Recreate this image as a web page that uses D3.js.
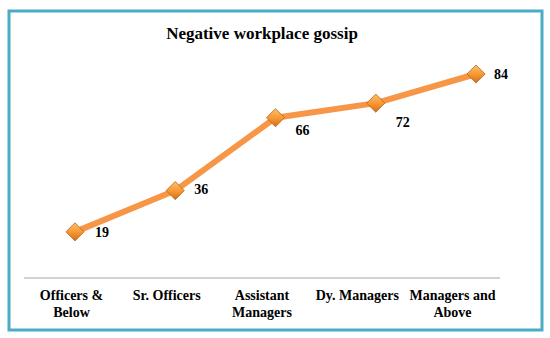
<!DOCTYPE html>
<html>
<head>
<meta charset="utf-8">
<script src="https://cdn.jsdelivr.net/npm/d3@7"></script>
<style>
  body { margin: 0; background: #fff; }
  svg { display: block; font-family: "Liberation Serif", "Times New Roman", serif; }
</style>
</head>
<body>
<svg id="chart" width="550" height="338"></svg>
<script>
const categories = ["Officers & Below", "Sr. Officers", "Assistant Managers", "Dy. Managers", "Managers and Above"];
const tickLabels = [["Officers &", "Below"], ["Sr. Officers"], ["Assistant", "Managers"], ["Dy. Managers"], ["Managers and", "Above"]];
const values = [19, 36, 66, 72, 84];

const svg = d3.select("#chart");

const defs = svg.append("defs");
const grad = defs.append("linearGradient")
  .attr("id", "dia")
  .attr("x1", "0%").attr("y1", "0%")
  .attr("x2", "0%").attr("y2", "100%");
grad.append("stop").attr("offset", "0%").attr("stop-color", "#fbc06f");
grad.append("stop").attr("offset", "55%").attr("stop-color", "#f7952f");
grad.append("stop").attr("offset", "100%").attr("stop-color", "#cc701b");

// frame
svg.append("rect")
  .attr("x", 9).attr("y", 11)
  .attr("width", 533).attr("height", 319)
  .attr("fill", "none")
  .attr("stroke", "#4bacc6")
  .attr("stroke-width", 3);

svg.append("text")
  .attr("x", 262).attr("y", 39)
  .attr("text-anchor", "middle")
  .attr("font-size", 17)
  .attr("font-weight", "bold")
  .text("Negative workplace gossip");

// point positions and label positions are slightly different in the original
const x = d3.scalePoint().domain(categories).range([75, 476]);
const xLab = d3.scalePoint().domain(categories).range([71, 452]);
const y = d3.scaleLinear().domain([0, 84]).range([278, 74]);

// category axis
const xAxis = svg.append("g")
  .attr("transform", "translate(0,278)")
  .call(d3.axisBottom(xLab).tickSize(0).tickFormat(""));
xAxis.select(".domain")
  .attr("d", "M24,0H500")
  .attr("stroke", "#a6a6a6")
  .attr("stroke-width", 1);
xAxis.selectAll(".tick").each(function (d, i) {
  const t = d3.select(this).append("text")
    .attr("fill", "#000")
    .attr("font-size", 14)
    .attr("font-weight", "bold")
    .attr("text-anchor", "middle")
    .attr("font-family", "Liberation Serif, serif");
  tickLabels[i].forEach((line, j) => {
    t.append("tspan").attr("x", 0).attr("y", 22 + j * 17).text(line);
  });
});

const line = d3.line()
  .x((d, i) => x(categories[i]))
  .y(d => y(d));

svg.append("path")
  .datum(values)
  .attr("d", line)
  .attr("fill", "none")
  .attr("stroke", "#f79646")
  .attr("stroke-width", 6)
  .attr("stroke-linejoin", "round");

const sym = d3.symbol().type(d3.symbolDiamond2).size(210);
svg.selectAll(".marker")
  .data(values)
  .join("path")
  .attr("class", "marker")
  .attr("d", sym)
  .attr("transform", (d, i) => `translate(${x(categories[i])},${y(d)})`)
  .attr("fill", "url(#dia)")
  .attr("stroke", "#b8661a")
  .attr("stroke-width", 0.8);

const labelOffsets = [[20, 5], [19, 3], [20, 17], [20, 24], [18, 5]];
svg.selectAll(".val")
  .data(values)
  .join("text")
  .attr("class", "val")
  .attr("x", (d, i) => x(categories[i]) + labelOffsets[i][0])
  .attr("y", (d, i) => y(d) + labelOffsets[i][1])
  .attr("font-size", 14)
  .attr("font-weight", "bold")
  .text(d => d);
</script>
</body>
</html>
